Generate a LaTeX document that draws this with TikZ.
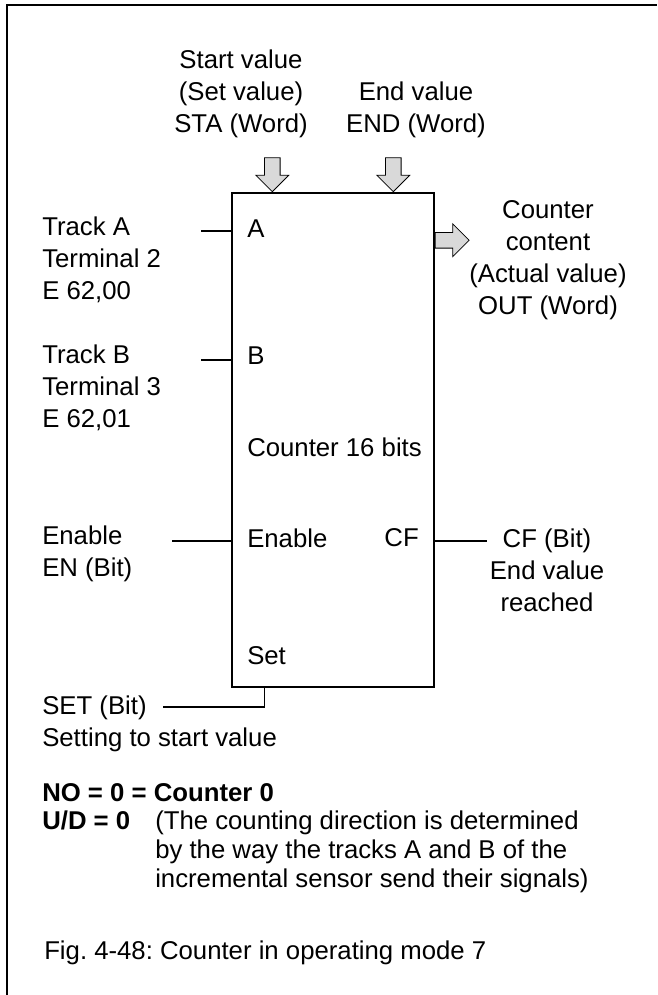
\documentclass[tikz,border=0pt]{standalone}
\usepackage{fontspec}
\setmainfont{Liberation Sans}
\usetikzlibrary{calc,shapes.arrows}
\frenchspacing

\begin{document}
\begin{tikzpicture}[
    x=0.75pt, y=-0.75pt,
    txt/.style={inner sep=0pt, font=\fontsize{19.3}{24}\selectfont},
    lft/.style={txt, anchor=west, align=left},
    ctr/.style={txt, align=center},
    wire/.style={line width=0.8pt},
    blk/.style={rectangle, draw, line width=1.1pt, minimum width=151.5pt, minimum height=370.5pt},
    bus/.style={single arrow, draw, fill=black!15, line width=0.6pt, minimum height=25.5pt,
                inner sep=5.6pt, single arrow head extend=6.4pt}
]
\useasboundingbox (0,0) rectangle (657,995);

% frame
\draw[line width=1.5pt] (7,995) -- (7,5) -- (657,5);

% counter block
\node[blk] (cnt) at (333,440) {};
\node[lft] (pa)   at (247,229) {A};
\node[lft] (pb)   at (247,356) {B};
\node[lft] (bits) at (247,447) {Counter 16 bits};
\node[lft] (pen)  at (247,538) {Enable};
\node[txt, anchor=east] (pcf) at (419,538) {CF};
\node[lft] (pset) at (247,656) {Set};

% word inputs and output
\node[ctr] (sta) at (241,94) {Start value\\(Set value)\\STA (Word)};
\node[ctr] (end) at (416,110) {End value\\END (Word)};
\node[bus, shape border rotate=270, anchor=tip] (stain) at ($(cnt.north west)+(41,0)$) {};
\node[bus, shape border rotate=270, anchor=tip] (endin) at ($(cnt.north west)+(162,0)$) {};
\node[bus, anchor=tail] (outw) at ($(cnt.north east)+(0,48)$) {};
\node[ctr] (out) at (548,260) {Counter\\content\\(Actual value)\\OUT (Word)};

% bit inputs
\node[lft] (trka) at (42,260) {Track A\\Terminal 2\\E 62,00};
\node[lft] (trkb) at (42,388) {Track B\\Terminal 3\\E 62,01};
\node[lft] (en)   at (42,554) {Enable\\EN (Bit)};
\node[lft] (set)  at (42,724) {SET (Bit)\\Setting to start value};
\coordinate (ina) at (201,231);
\coordinate (inb) at (201,360);
\coordinate (inen) at (172,541);
\coordinate (inset) at (163,707);
\draw[wire] (ina) -- (ina -| cnt.west);
\draw[wire] (inb) -- (inb -| cnt.west);
\draw[wire] (inen) -- (inen -| cnt.west);
\draw[wire] (inset) -| ($(cnt.south west)+(33,0)$);

% bit output
\node[ctr] (cf) at (547,570) {CF (Bit)\\End value\\reached};
\coordinate (outcf) at (487,541);
\draw[wire] (outcf -| cnt.east) -- (outcf);

% notes
\node[lft] (no) at (42,793) {\bfseries NO = 0 = Counter 0};
\node[txt, anchor=base west] (ud) at (42,829) {\bfseries U/D = 0};
\node[txt, anchor=base west, align=left, font=\fontsize{19.3}{21.75}\selectfont] (dir) at (155,887)
    {(The counting direction is determined\\by the way the tracks A and B of the\\incremental sensor send their signals)};
\node[lft] (fig) at (44,953) {Fig. 4-48: Counter in operating mode 7};
\end{tikzpicture}
\end{document}
